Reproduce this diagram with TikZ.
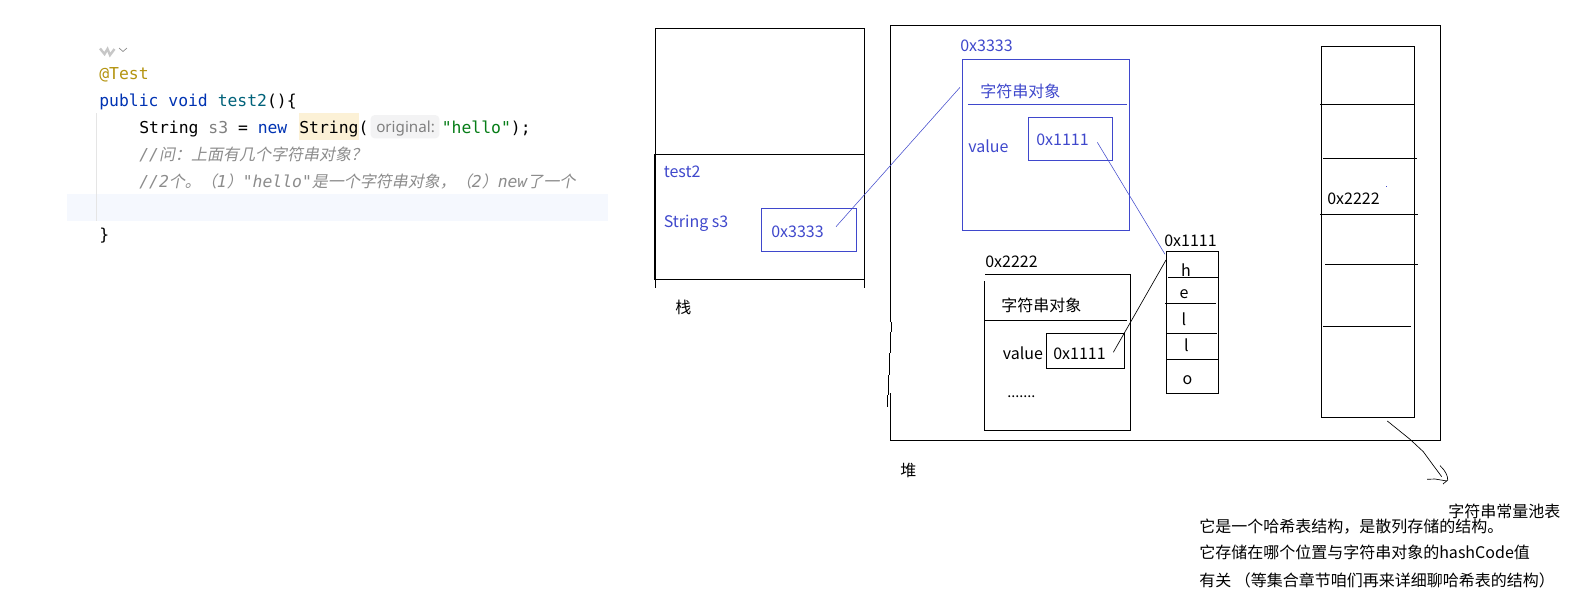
\documentclass[tikz,border=0pt]{standalone}
\usepackage{fontspec}
\usepackage{xcolor}
\setmonofont{DejaVu Sans Mono}
\newfontfamily\DiagFont{Noto Sans CJK SC}
\newfontfamily\NoteFont[AutoFakeSlant=0.2]{Noto Sans CJK SC}
\newfontfamily\HintFont{Noto Sans}
\definecolor{ColPaint}{RGB}{63,72,204}
\definecolor{ColKey}{RGB}{0,51,179}
\definecolor{ColFun}{RGB}{0,98,122}
\definecolor{ColAnn}{RGB}{180,148,16}
\definecolor{ColStr}{RGB}{6,125,23}
\definecolor{ColNote}{RGB}{140,140,140}
\definecolor{ColRow}{RGB}{245,248,254}
\definecolor{ColMark}{RGB}{252,241,214}
\definecolor{ColChip}{RGB}{243,243,244}
\tikzstyle{Box}=[draw=black,line width=.75pt,inner sep=0pt,outer sep=0pt]
\tikzstyle{BoxBlue}=[draw=ColPaint,line width=.75pt,inner sep=0pt,outer sep=0pt]
\tikzstyle{Edge}=[draw=black,line width=.75pt]
\tikzstyle{EdgeThin}=[draw=black,line width=.5pt]
\tikzstyle{EdgeBlue}=[draw=ColPaint,line width=.4pt]
\tikzstyle{EdgeRule}=[draw=ColPaint,line width=.7pt]
\tikzstyle{NodeST}=[anchor=base west,inner sep=0pt,font=\DiagFont\fontsize{12}{14}\selectfont]
\tikzstyle{NodeBlue}=[NodeST,text=ColPaint]
\tikzstyle{NodeLetter}=[anchor=base,inner sep=0pt,font=\DiagFont\fontsize{12}{14}\selectfont]
\tikzstyle{NodeCode}=[anchor=base west,inner sep=0pt,font=\ttfamily\fontsize{12.3}{14}\selectfont]
\tikzstyle{NodeNote}=[NodeCode,text=ColNote,font=\ttfamily\itshape\fontsize{12.3}{14}\selectfont]
\tikzstyle{Band}=[inner sep=0pt,outer sep=0pt]
\newcommand{\Hz}[1]{{\NoteFont\fontsize{12}{14}\selectfont #1}}
\begin{document}
\begin{tikzpicture}[x=.75pt,y=-.75pt]
        \path[use as bounding box,fill=white](0,0)rectangle(1594,611);
        % code panel
        \node[Band,fill=ColRow,minimum width=405.75pt,minimum height=20pt](row)at(337.25,207.3){};
        \node[Band,fill=ColMark,minimum width=45.5pt,minimum height=20pt](mark)at(329,126.7){};
        \node[Band,fill=ColChip,rounded corners=3pt,minimum width=51.5pt,minimum height=17.5pt](chip)at(405,126.7){};
        \coordinate(gtop)at(96.5,113);
        \coordinate(gbot)at(96.5,220.7);
        \draw[draw=black!10,line width=.7pt](gtop)--(gbot);
        \coordinate(ic1)at(100,48.5);
        \coordinate(ic2)at(104.5,54);
        \coordinate(ic3)at(107.5,49);
        \coordinate(ic4)at(110,55);
        \coordinate(ic5)at(114.5,49);
        \draw[draw=black!22,line width=1.8pt](ic1)--(ic2)--(ic3)--(ic4)--(ic5);
        \coordinate(ch1)at(119,48);
        \coordinate(ch2)at(123,51.5);
        \coordinate(ch3)at(127,48);
        \draw[draw=black!45,line width=.5pt](ch1)--(ch2)--(ch3);
        \node[NodeCode,text=ColAnn](ann)at(99,79.5){@Test};
        \node[NodeCode](sig)at(99,106){\textcolor{ColKey}{public void} \textcolor{ColFun}{test2}()\{};
        \node[NodeCode](decl)at(139,133){String \textcolor{black!50}{s3} = \textcolor{ColKey}{new}};
        \node[NodeCode](ctor)at(299,133){String(};
        \node[anchor=base west,inner sep=0pt,text=black!50,font=\HintFont\fontsize{11.4}{12}\selectfont](hint)at(376,132){original:};
        \node[NodeCode](arg)at(441.5,133){\textcolor{ColStr}{"hello"});};
        \node[NodeNote](note1)at(139,160.5){//\Hz{问：上面有几个字符串对象？}};
        \node[NodeNote](note2)at(139,187.5){//2\Hz{个。（}1\Hz{）}"hello"\Hz{是一个字符串对象，（}2\Hz{）}new\Hz{了一个}};
        \node[NodeCode](close)at(99,240.5){\}};
        % stack
        \coordinate(stl)at(655.5,287.5);
        \coordinate(stt)at(655.5,28.5);
        \coordinate(str)at(864.5,28.5);
        \coordinate(stb)at(864.5,287.5);
        \draw[Edge](stl)--(stt)--(str)--(stb);
        \node[Box,minimum width=157.25pt,minimum height=94pt](frame)at(759.5,216.75){};
        \coordinate(fra)at(655,154);
        \coordinate(frb)at(655,279.5);
        \draw[draw=black,line width=1.5pt](fra)--(frb);
        \node[NodeBlue](test)at(663.5,177.5){test2};
        \node[NodeBlue](sthree)at(663.5,227.5){String s3};
        \node[BoxBlue,minimum width=71.5pt,minimum height=32.25pt](sbox)at(809,229.75){};
        \node[NodeBlue](saddr)at(771,237){0x3333};
        \node[NodeST](stk)at(675,313){栈};
        % heap
        \coordinate(h1)at(890.5,322);
        \coordinate(h2)at(890.5,25.5);
        \coordinate(h3)at(1440.5,25.5);
        \coordinate(h4)at(1440.5,440.5);
        \coordinate(h5)at(890.5,440.5);
        \coordinate(h6)at(890.5,392.5);
        \draw[Edge](h1)--(h2)--(h3)--(h4)--(h5)--(h6);
        \coordinate(j1)at(891.5,322);
        \coordinate(j2)at(891.5,332);
        \coordinate(j3)at(890.5,332);
        \coordinate(j4)at(890.5,353);
        \coordinate(j5)at(889.5,353);
        \coordinate(j6)at(889.5,375);
        \coordinate(j7)at(888.5,375);
        \coordinate(j8)at(888.5,395);
        \coordinate(j9)at(887.5,395);
        \coordinate(j10)at(887.5,407);
        \draw[Edge](j1)--(j2);
        \draw[Edge](j3)--(j4);
        \draw[Edge](j5)--(j6);
        \draw[Edge](j7)--(j8);
        \draw[Edge](j9)--(j10);
        \node[NodeST](hp)at(900,476){堆};
        % blue object
        \node[NodeBlue](oaddr)at(960,51){0x3333};
        \node[BoxBlue,minimum width=125.25pt,minimum height=128.25pt](obj)at(1045.75,144.75){};
        \coordinate(ora)at(968,104.5);
        \coordinate(orb)at(1127,104.5);
        \draw[EdgeRule](ora)--(orb);
        \node[NodeBlue](otitle)at(980,97.5){字符串对象};
        \node[NodeBlue](oval)at(968,152){value};
        \node[BoxBlue,minimum width=63.25pt,minimum height=32.25pt](vbox)at(1070.5,138.75){};
        \node[NodeBlue](vaddr)at(1036,145){0x1111};
        \coordinate(p1)at(836,226.7);
        \coordinate(p2)at(960,87.3);
        \draw[EdgeBlue](p1)--(p2);
        \coordinate(p3)at(1097.3,142.3);
        \coordinate(p4)at(1165,254.3);
        \draw[EdgeBlue](p3)--(p4);
        % black object
        \node[NodeST](baddr)at(985,267){0x2222};
        \coordinate(b1)at(984.5,281);
        \coordinate(b2)at(984.5,430.5);
        \coordinate(b3)at(1130.5,430.5);
        \coordinate(b4)at(1130.5,274.5);
        \coordinate(b5)at(985,274.5);
        \draw[Edge](b1)--(b2)--(b3)--(b4)--(b5);
        \coordinate(bra)at(984.5,320.5);
        \coordinate(brb)at(1127,320.5);
        \draw[Edge](bra)--(brb);
        \node[NodeST](btitle)at(1001,311){字符串对象};
        \node[NodeST](bval)at(1002.5,359){value};
        \node[Box,minimum width=58.5pt,minimum height=26.25pt](wbox)at(1085.25,350.75){};
        \node[NodeST](waddr)at(1053,359){0x1111};
        \node[NodeST,font=\DiagFont\fontsize{10.8}{14}\selectfont](dots)at(1007,397){.......};
        \coordinate(q1)at(1113.3,352.3);
        \coordinate(q2)at(1166,260);
        \draw[EdgeThin](q1)--(q2);
        % hello column
        \node[NodeST](caddr)at(1164,246){0x1111};
        \node[Box,minimum width=39pt,minimum height=106.5pt](col)at(1192.5,322.5){};
        \foreach \y/\a/\b/\n in {277.5/1168/1218/a,303.5/1165/1216/b,333.5/1167/1217/c,359.5/1167/1218/d}{
            \coordinate(l\n)at(\a,\y);
            \coordinate(r\n)at(\b,\y);
            \draw[Edge](l\n)--(r\n);
        }
        \foreach \x/\y/\c/\n in {1186/276/h/h,1184/298/e/e,1184/325/l/l,1186.5/351/l/m,1187.5/384/o/o}{
            \node[NodeLetter](\n)at(\x,\y){\c};
        }
        % pool
        \node[Box,minimum width=69.75pt,minimum height=278.25pt](pool)at(1367.75,231.75){};
        \foreach \y/\a/\b/\n in {104.5/1320/1414/a,158.5/1323/1417/b,214.5/1320/1418/c,264.5/1325/1418/d,326.5/1323/1411/e}{
            \coordinate(u\n)at(\a,\y);
            \coordinate(v\n)at(\b,\y);
            \draw[Edge](u\n)--(v\n);
        }
        \node[NodeST](paddr)at(1327,204){0x2222};
        \node[inner sep=0pt,minimum size=.6pt,fill=ColPaint](speck)at(1386.7,186){};
        \coordinate(c1)at(1387.3,421);
        \coordinate(c2)at(1410,439.3);
        \coordinate(c3)at(1423.3,451.7);
        \coordinate(c4)at(1433,465);
        \coordinate(c5)at(1441.7,476.7);
        \draw[EdgeThin](c1)--(c2)--(c3)--(c4)--(c5);
        \coordinate(d1)at(1440,465.7);
        \coordinate(d2)at(1447.7,480);
        \coordinate(d3)at(1443,484);
        \coordinate(d4)at(1427,479.3);
        \coordinate(d5)at(1447,481);
        \coordinate(d6)at(1435,479);
        \draw[EdgeThin](d1)..controls(1445,470)and(1448,476)..(d2)--(d3);
        \draw[EdgeThin](d4)--(d6)--(d5);
        % notes
        \node[NodeST](ptitle)at(1448,517){字符串常量池表};
        \node[NodeST](line1)at(1199,532){它是一个哈希表结构，是散列存储的结构。};
        \node[NodeST](line2)at(1199,558.5){它存储在哪个位置与字符串对象的hashCode值};
        \node[NodeST](line3)at(1199,586){有关 （等集合章节咱们再来详细聊哈希表的结构）};
    \end{tikzpicture}
\end{document}
